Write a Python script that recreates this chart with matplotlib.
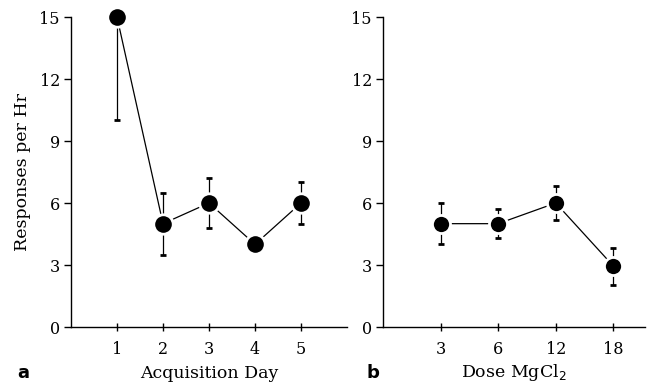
import matplotlib
matplotlib.use("Agg")
import matplotlib.pyplot as plt

# Panel a: acquisition days
days = [1, 2, 3, 4, 5]
day_resp = [15, 5, 6, 4, 6]
day_err_low = [5, 1.5, 1.2, 0.3, 1.0]
day_err_high = [0, 1.5, 1.2, 0.3, 1.0]

# Panel b: dose of MgCl2
doses = ["3", "6", "12", "18"]
dose_resp = [5, 5, 6, 2.95]
dose_err_low = [1.0, 0.7, 0.8, 0.9]
dose_err_high = [1.0, 0.7, 0.8, 0.85]

yticks = [0, 3, 6, 9, 12, 15]

plt.rcParams['font.family'] = ['DejaVu Serif']
fig = plt.figure(figsize=(6.51, 3.84), dpi=100)
W, H = 651, 384
axa = fig.add_axes([71 / W, 1 - 327 / H, (347 - 71) / W, 310 / H])
axb = fig.add_axes([383 / W, 1 - 327 / H, (645 - 383) / W, 310 / H])

TICK_FS = 11.5
LAB_FS = 12.5

def style(ax):
    for s in ['top', 'right']:
        ax.spines[s].set_visible(False)
    for s in ['left', 'bottom']:
        ax.spines[s].set_linewidth(1.0)
    ax.set_ylim(0, 15)
    ax.set_yticks(yticks)
    ax.tick_params(axis='y', direction='out', length=5, width=1, labelsize=TICK_FS, pad=3)
    ax.tick_params(axis='x', direction='inout', length=6, width=1, labelsize=TICK_FS, pad=7)

style(axa)
style(axb)

axa.errorbar(days, day_resp, yerr=[day_err_low, day_err_high], fmt='o-', color='black',
             ms=14, mfc='black', mec='white', mew=2.0, lw=0.9, elinewidth=0.9,
             capsize=2.2, capthick=0.7, clip_on=False, zorder=3)
axa.set_xlim(0, 6)
axa.set_xticks(days)
axa.set_xticklabels([str(d) for d in days])
axa.set_ylabel("Responses per Hr", fontsize=LAB_FS, labelpad=6)
axa.set_xlabel("Acquisition Day", fontsize=LAB_FS, labelpad=5)

xb = list(range(1, len(doses) + 1))
axb.errorbar(xb, dose_resp, yerr=[dose_err_low, dose_err_high], fmt='o-', color='black',
             ms=13, mfc='black', mec='white', mew=2.0, lw=0.9, elinewidth=0.9,
             capsize=2.2, capthick=0.7, clip_on=False, zorder=3)
axb.set_xlim(0, 4.55)
axb.set_xticks(xb)
axb.set_xticklabels(doses)
axb.set_xlabel(r"Dose MgCl$_2$", fontsize=LAB_FS, labelpad=3)

fig.text(17 / W, 1 - 373 / H, "a", fontsize=13, fontweight='bold', family='DejaVu Sans', va='center')
fig.text(367 / W, 1 - 373 / H, "b", fontsize=13, fontweight='bold', family='DejaVu Sans', va='center')

fig.savefig("out.png", dpi=100)
